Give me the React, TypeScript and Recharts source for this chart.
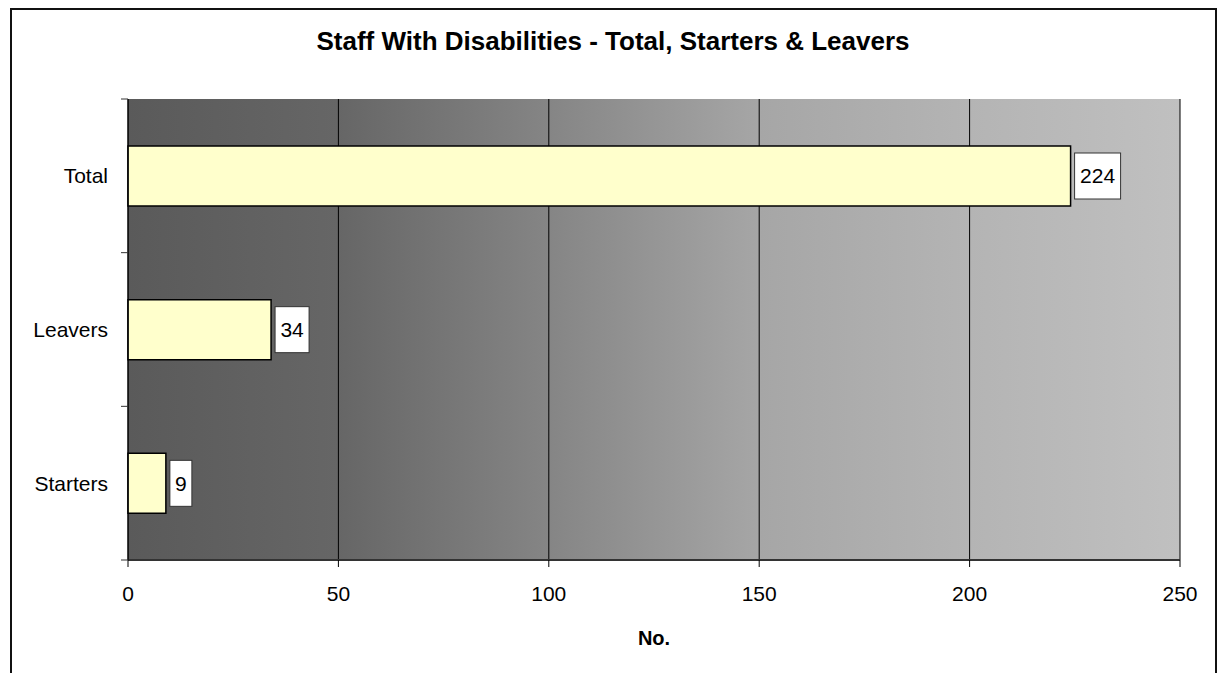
import React from 'react';
import { BarChart, Bar, XAxis, YAxis, CartesianGrid, LabelList, ReferenceArea } from 'recharts';

const categories = ['Total', 'Leavers', 'Starters'];
const values = [224, 34, 9];
const xTicks = [0, 50, 100, 150, 200, 250];
const title = 'Staff With Disabilities - Total, Starters & Leavers';
const xTitle = 'No.';

const data = categories.map((name, i) => ({ name, value: values[i] }));

const FONT = '"Liberation Sans", Arial, sans-serif';
const FS = 21;

const CatTick = (props: any) => {
  const { x, y, payload, index, visibleTicksCount } = props;
  const off = payload && payload.offset != null ? payload.offset : 0;
  return (
    <g>
      <line x1={x - 7} x2={x} y1={y - off} y2={y - off} stroke="#333" strokeWidth={1} />
      {index === (visibleTicksCount ?? categories.length) - 1 && (
        <line x1={x - 7} x2={x} y1={y + off} y2={y + off} stroke="#333" strokeWidth={1} />
      )}
      <text x={x - 20} y={y} dy="0.35em" textAnchor="end" fontSize={FS} fill="#000" fontFamily={FONT}>
        {payload.value}
      </text>
    </g>
  );
};

const ValueLabel = (props: any) => {
  const { x, y, width, height, value } = props;
  const s = String(value);
  const bw = s.length * 12 + 10;
  const bh = 46;
  const bx = x + width + 4;
  const cy = y + height / 2;
  return (
    <g>
      <rect x={bx} y={cy - bh / 2} width={bw} height={bh} fill="#fff" stroke="#333" strokeWidth={1} />
      <text x={bx + bw / 2} y={cy} dy="0.35em" textAnchor="middle" fontSize={FS} fill="#000" fontFamily={FONT}>
        {s}
      </text>
    </g>
  );
};

export default function App() {
  return (
    <div style={{ position: 'absolute', left: 0, top: 0, width: 1220, height: 673, overflow: 'hidden', background: '#fff' }}>
      <div
        style={{
          position: 'absolute',
          left: 10,
          top: 8,
          width: 1203,
          height: 720,
          border: '2px solid #111',
        }}
      />
      <svg width={1220} height={673} style={{ position: 'absolute', left: 0, top: 0 }}>
        <text
          x={613}
          y={41}
          dy="0.35em"
          textAnchor="middle"
          fontSize={26}
          fontWeight="bold"
          fill="#000"
          fontFamily={FONT}
        >
          {title}
        </text>
      </svg>
      <div style={{ position: 'absolute', left: 0, top: 0 }}>
        <BarChart
          width={1220}
          height={673}
          data={data}
          layout="vertical"
          margin={{ top: 99, right: 40, bottom: 13, left: 10 }}
          barSize={60}
        >
          <defs>
            <linearGradient id="bg" x1="0" y1="0" x2="1" y2="0">
              <stop offset="0" stopColor="#5a5a5a" />
              <stop offset="0.2" stopColor="#666666" />
              <stop offset="0.4" stopColor="#858585" />
              <stop offset="0.6" stopColor="#a6a6a6" />
              <stop offset="0.8" stopColor="#b4b4b4" />
              <stop offset="1" stopColor="#c0c0c0" />
            </linearGradient>
          </defs>
          <CartesianGrid horizontal={false} vertical={true} stroke="#000" strokeWidth={1} fill="url(#bg)" fillOpacity={1} />
          <ReferenceArea fill="none" stroke="#808080" strokeWidth={2} />
          <XAxis
            type="number"
            domain={[0, 250]}
            ticks={xTicks}
            interval={0}
            tickSize={7}
            tickMargin={19}
            tickLine={{ stroke: '#000' }}
            axisLine={{ stroke: '#333', strokeWidth: 2 }}
            tick={{ fontSize: FS, fill: '#000', fontFamily: FONT }}
            height={100}
            label={{ value: xTitle, position: 'insideBottom', offset: 15, fontSize: 20, fontWeight: 'bold', fill: '#000', fontFamily: FONT }}
          />
          <YAxis
            type="category"
            dataKey="name"
            width={118}
            tickLine={false}
            tickSize={0}
            tickMargin={0}
            axisLine={{ stroke: '#000', strokeWidth: 1 }}
            tick={<CatTick />}
            interval={0}
          />
          <Bar dataKey="value" fill="#FFFFCC" stroke="#000" strokeWidth={1.5} isAnimationActive={false}>
            <LabelList dataKey="value" content={<ValueLabel />} />
          </Bar>
        </BarChart>
      </div>
    </div>
  );
}
